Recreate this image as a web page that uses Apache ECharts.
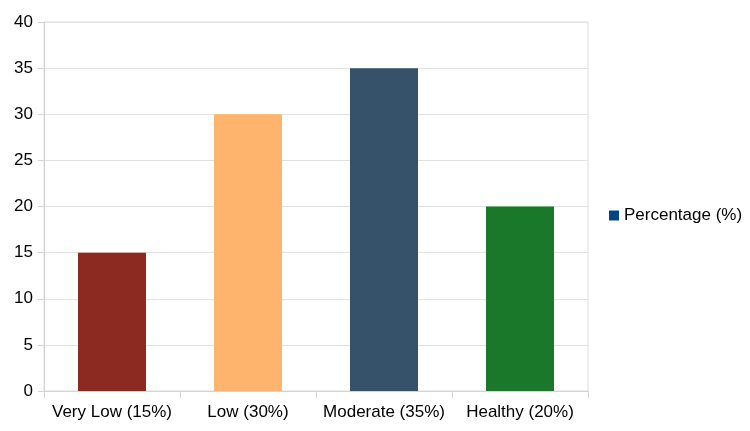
<!DOCTYPE html>
<html>
<head>
<meta charset="utf-8">
<script src="https://cdn.jsdelivr.net/npm/echarts@6/dist/echarts.min.js"></script>
<style>
  html, body { margin: 0; padding: 0; background: #fff; }
  #chart { width: 750px; height: 431px; }
</style>
</head>
<body>
<div id="chart"></div>
<script>
var categories = ["Very Low (15%)", "Low (30%)", "Moderate (35%)", "Healthy (20%)"];
var values = [15, 30, 35, 20];
var barColors = ["#8c2920", "#feb46c", "#35526a", "#19782a"];
var seriesName = "Percentage (%)";

var chart = echarts.init(document.getElementById("chart"));
var option = {
  animation: false,
  textStyle: { fontFamily: "Liberation Sans, Arial, sans-serif" },
  grid: {
    left: 44,
    right: 162,
    top: 22,
    bottom: 40,
    show: true,
    borderColor: "#dcdcdc",
    borderWidth: 1
  },
  legend: {
    orient: "vertical",
    left: 604,
    top: "middle",
    itemWidth: 10,
    itemHeight: 10,
    itemGap: 6,
    icon: "rect",
    textStyle: { fontSize: 17, color: "#000" },
    data: [{ name: seriesName, itemStyle: { color: "#004586" } }]
  },
  xAxis: {
    type: "category",
    data: categories,
    axisLine: { lineStyle: { color: "#d4d4d4" } },
    axisTick: { show: true, length: 7, lineStyle: { color: "#d4d4d4" } },
    axisLabel: { color: "#000", fontSize: 17, margin: 13, interval: 0 }
  },
  yAxis: {
    type: "value",
    min: 0,
    max: 40,
    interval: 5,
    axisLine: { show: true, lineStyle: { color: "#d4d4d4" } },
    axisTick: { show: true, length: 6, lineStyle: { color: "#d4d4d4" } },
    axisLabel: { color: "#000", fontSize: 17, margin: 11 },
    splitLine: { lineStyle: { color: "#e2e2e2" } }
  },
  series: [{
    name: seriesName,
    type: "bar",
    barWidth: "50%",
    data: values.map(function (v, i) {
      return { value: v, itemStyle: { color: barColors[i] } };
    })
  }]
};
chart.setOption(option);
</script>
</body>
</html>
